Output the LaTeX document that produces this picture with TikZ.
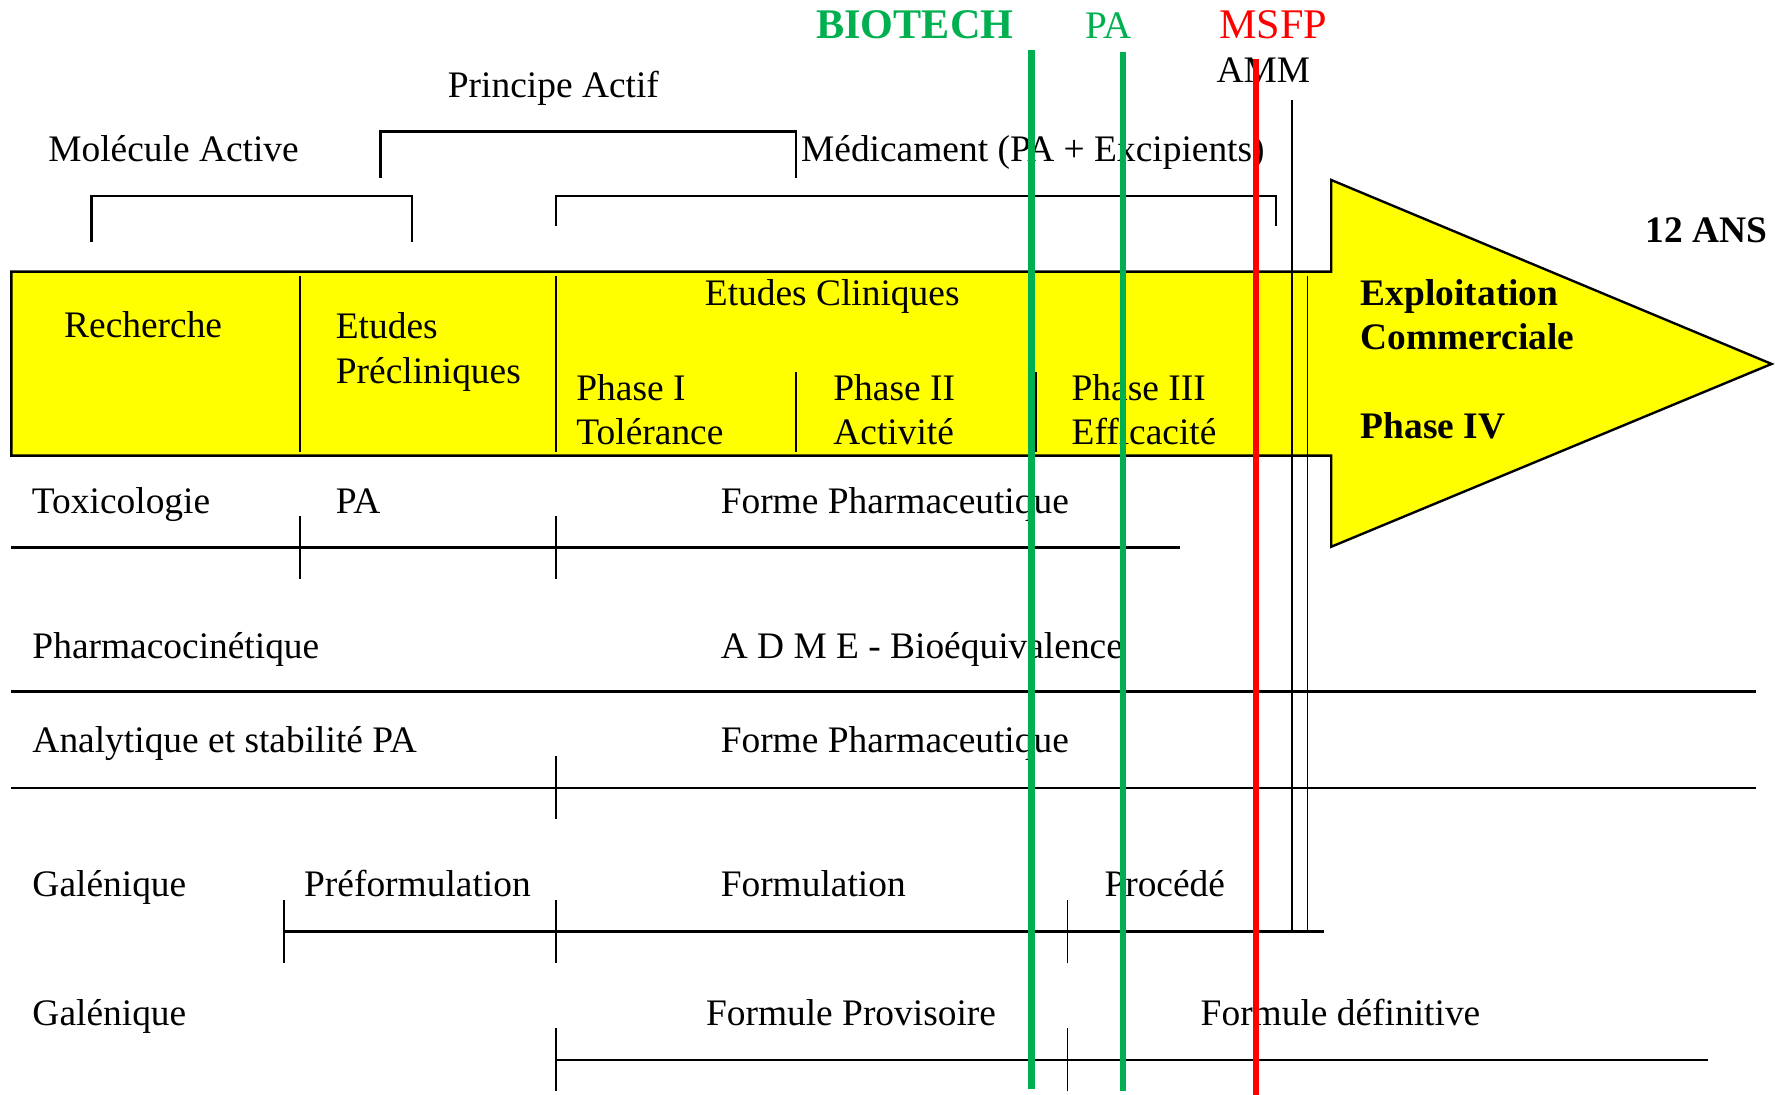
\documentclass[tikz,border=0pt]{standalone}
\usepackage{fontspec}
\setmainfont{Liberation Serif}
\usepackage{tikz}
\usepackage{xcolor}
\definecolor{jaune}{RGB}{255,255,0}
\definecolor{vertjalon}{RGB}{0,176,80}
\definecolor{rougejalon}{RGB}{255,0,0}

\begin{document}
\begin{tikzpicture}[x=0.01cm, y=-0.01cm, font=\fontsize{9.4}{11.2}\selectfont,
		etiq/.style={anchor=base west, inner sep=0pt, align=left},
		gras/.style={etiq, font=\fontsize{9.4}{11.2}\selectfont\bfseries},
		trait/.style={line width=0.6pt},
		graduation/.style={line width=0.45pt},
		jalon/.style={line width=1.7pt}]
		\useasboundingbox (0,0) rectangle (1568,967);
		\draw[trait, fill=jaune] (10,240) -- (1176,240) -- (1176,159) -- (1565,321.5) -- (1176,483) -- (1176,402.5) -- (10,402.5) -- cycle;
		\draw[trait] (81,214) -- (81,173) -- (364,173) -- (364,214);
		\draw[trait] (336,157) -- (336,116) -- (703,116) -- (703,157);
		\draw[trait] (491,200) -- (491,173) -- (1127,173) -- (1127,200);
		\foreach \x in {265,491}{
			\draw[graduation] (\x,244) -- (\x,399);
		}
		\foreach \x in {703,915}{
			\draw[graduation] (\x,329) -- (\x,399);
		}
		\draw[graduation] (1141,88) -- (1141,823);
		\draw[graduation] (1155,244) -- (1155,823);
		\draw[trait] (10,483.5) -- (1042,483.5);
		\foreach \x in {265,491}{
			\draw[graduation] (\x,456) -- (\x,511.5);
		}
		\draw[trait] (10,611) -- (1551,611);
		\draw[trait] (10,696) -- (1551,696);
		\draw[graduation] (491,668) -- (491,723.5);
		\draw[trait] (251,823) -- (1170,823);
		\foreach \x in {251,491,943}{
			\draw[graduation] (\x,795) -- (\x,851);
		}
		\draw[trait] (491,936.5) -- (1508.5,936.5);
		\foreach \x in {491,943}{
			\draw[graduation] (\x,908) -- (\x,964);
		}
		\node[gras, text=vertjalon, font=\fontsize{10.6}{12}\selectfont\bfseries] (biotech) at (720.5,34) {BIOTECH};
		\node[etiq, text=vertjalon, font=\fontsize{9.8}{12}\selectfont] (pavert) at (958.5,34) {PA};
		\node[etiq, text=rougejalon, font=\fontsize{10.6}{12}\selectfont] (msfp) at (1076.5,34) {MSFP};
		\node[etiq] (amm) at (1074,72.5) {AMM};
		\node[etiq] (principe) at (395,86) {Principe Actif};
		\node[etiq] (molecule) at (42,142.5) {Molécule Active};
		\node[etiq] (medicament) at (707,142.5) {Médicament (PA + Excipients)};
		\node[gras] (douzeans) at (1453,214) {12 ANS};
		\node[etiq] (recherche) at (56,298.5) {Recherche};
		\node[etiq] (precliniques) at (296,338.5) {Etudes\\Précliniques};
		\node[etiq] (cliniques) at (622,269.5) {Etudes Cliniques};
		\node[etiq] (phaseun) at (508.5,393) {Phase I\\Tolérance};
		\node[etiq] (phasedeux) at (735.5,393) {Phase II\\Activité};
		\node[etiq] (phasetrois) at (946,393) {Phase III\\Efficacité};
		\node[gras] (exploitation) at (1201.5,309) {Exploitation\\Commerciale};
		\node[gras] (phasequatre) at (1201.5,387) {Phase IV};
		\node[etiq] (toxico) at (27.5,453.5) {Toxicologie};
		\node[etiq] (patoxico) at (296,453.5) {PA};
		\node[etiq] (formetoxico) at (636,453.5) {Forme Pharmaceutique};
		\node[etiq] (pharmaco) at (28,581.5) {Pharmacocinétique};
		\node[etiq] (adme) at (636,581.5) {A D M E - Bioéquivalence};
		\node[etiq] (analytique) at (28,665) {Analytique et stabilité PA};
		\node[etiq] (formeanalytique) at (636,665) {Forme Pharmaceutique};
		\node[etiq] (galeniqueun) at (28,792) {Galénique};
		\node[etiq] (preformulation) at (268,792) {Préformulation};
		\node[etiq] (formulation) at (636,792) {Formulation};
		\node[etiq] (procede) at (975,792) {Procédé};
		\node[etiq] (galeniquedeux) at (28,905.5) {Galénique};
		\node[etiq] (provisoire) at (623,905.5) {Formule Provisoire};
		\node[etiq] (definitive) at (1060,905.5) {Formule définitive};
		\draw[jalon, vertjalon] (911,44) -- (911,962);
		\draw[jalon, vertjalon] (992,46) -- (992,964);
		\draw[jalon, rougejalon] (1109.5,52) -- (1109.5,967);
	\end{tikzpicture}
\end{document}
